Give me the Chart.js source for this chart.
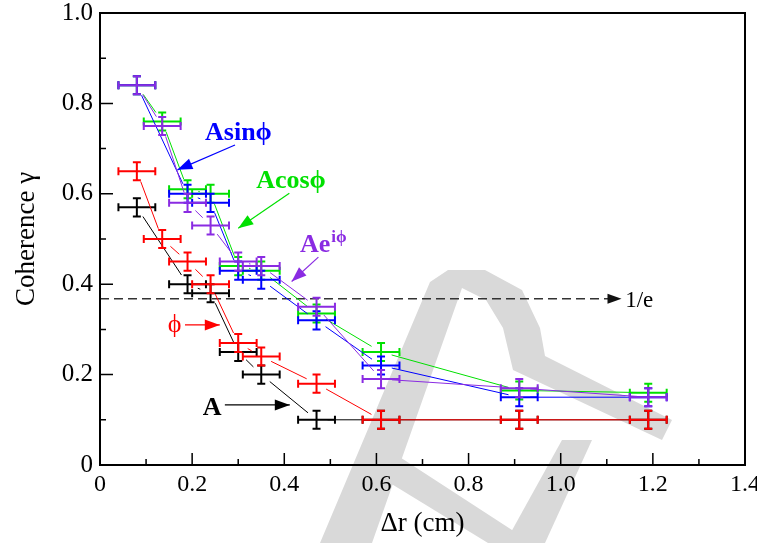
<!DOCTYPE html>
<html>
<head>
<meta charset="utf-8">
<script src="https://cdn.jsdelivr.net/npm/chart.js@4.4.1/dist/chart.umd.min.js"></script>
<style>
    html, body { margin: 0; padding: 0; background: #fff; }
    #wrap { width: 757px; height: 543px; }
</style>
</head>
<body>
<div id="wrap"><canvas id="myChart" width="757" height="543"></canvas></div>
<script>
// separation between the two probes (cm)
const rA = [0.08, 0.19, 0.24, 0.30, 0.35, 0.47, 0.61, 0.91, 1.19];
const gammaA = [0.57, 0.40, 0.38, 0.25, 0.20, 0.10, 0.10, 0.10, 0.10];

const rPhi = [0.08, 0.135, 0.19, 0.24, 0.30, 0.35, 0.47, 0.61, 0.91, 1.19];
const gammaPhi = [0.65, 0.50, 0.45, 0.40, 0.27, 0.24, 0.18, 0.10, 0.10, 0.10];

const rCos = [0.08, 0.135, 0.19, 0.24, 0.30, 0.35, 0.47, 0.61, 0.91, 1.19];
const gammaCos = [0.84, 0.76, 0.61, 0.60, 0.44, 0.43, 0.335, 0.25, 0.165, 0.16];

const rSin = [0.08, 0.19, 0.24, 0.30, 0.35, 0.47, 0.61, 0.91, 1.19];
const gammaSin = [0.84, 0.60, 0.58, 0.43, 0.41, 0.32, 0.22, 0.15, 0.15];

const rExp = [0.08, 0.135, 0.19, 0.24, 0.30, 0.35, 0.47, 0.61, 0.91, 1.19];
const gammaExp = [0.84, 0.75, 0.58, 0.53, 0.45, 0.44, 0.35, 0.19, 0.17, 0.15];

const rErr = 0.04;
const gammaErr = 0.02;
const invE = 0.368;

const xTickValues = [0, 0.2, 0.4, 0.6, 0.8, 1.0, 1.2, 1.4];
const xTickLabels = ["0", "0.2", "0.4", "0.6", "0.8", "1.0", "1.2", "1.4"];
const yTickValues = [0, 0.2, 0.4, 0.6, 0.8, 1.0];
const yTickLabels = ["0", "0.2", "0.4", "0.6", "0.8", "1.0"];
const xMinorTicks = [0.1, 0.3, 0.5, 0.7, 0.9, 1.1, 1.3];
const yMinorTicks = [0.1, 0.3, 0.5, 0.7, 0.9];

const serif = '"Liberation Serif", "Times New Roman", serif';

function pts(xs, ys) {
    return xs.map((v, i) => ({ x: v, y: ys[i] }));
}

// text labels with arrows, placed in data units
const notes = [
    { text: "Asin\u03d5", color: "#0000ff", x: 0.228, y: 0.719, bold: true, size: 26,
      arrow: [0.293, 0.708, 0.168, 0.653] },
    { text: "Acos\u03d5", color: "#00e000", x: 0.339, y: 0.613, bold: true, size: 26,
      arrow: [0.411, 0.601, 0.300, 0.524] },
    { text: "Ae", sup: "i\u03d5", color: "#8a2be2", x: 0.434, y: 0.472, bold: true, size: 26,
      arrow: [0.474, 0.460, 0.416, 0.406] },
    { text: "\u03d5", color: "#ff0000", x: 0.147, y: 0.295, bold: false, size: 26,
      arrow: [0.1845, 0.31, 0.26, 0.31] },
    { text: "A", color: "#000000", x: 0.223, y: 0.111, bold: true, size: 26,
      arrow: [0.271, 0.133, 0.412, 0.133] },
    { text: "1/e", color: "#000000", x: 1.14, y: 0.350, bold: false, size: 23 },
];

// faint "draft" watermark behind the plot (canvas pixels)
const watermark = [
    [[320, 543], [430, 282], [448, 270], [485, 270], [522, 290], [540, 328], [545, 356],
     [672, 420], [662, 440], [513, 370], [503, 328], [486, 300], [462, 288], [372, 543]],
    [[372, 472], [392, 452], [532, 543], [488, 543]],
    [[505, 543], [545, 543], [592, 440], [562, 440]],
];

function arrowHead(ctx, x0, y0, x1, y1, len, half) {
    const a = Math.atan2(y1 - y0, x1 - x0);
    ctx.beginPath();
    ctx.moveTo(x1, y1);
    ctx.lineTo(x1 - len * Math.cos(a) + half * Math.sin(a), y1 - len * Math.sin(a) - half * Math.cos(a));
    ctx.lineTo(x1 - len * Math.cos(a) - half * Math.sin(a), y1 - len * Math.sin(a) + half * Math.cos(a));
    ctx.closePath();
    ctx.fill();
}

const errorBars = {
    id: "errorBars",
    afterDatasetsDraw(chart) {
        const { ctx } = chart;
        const xs = chart.scales.x, ys = chart.scales.y;
        const gap = 11, cap = 4;
        chart.data.datasets.forEach((ds) => {
            const p = ds.data.map((d) => ({
                x: xs.getPixelForValue(d.x),
                y: ys.getPixelForValue(d.y),
                x0: xs.getPixelForValue(d.x - rErr),
                x1: xs.getPixelForValue(d.x + rErr),
                y0: ys.getPixelForValue(d.y - gammaErr),
                y1: ys.getPixelForValue(d.y + gammaErr),
            }));
            ctx.save();
            ctx.strokeStyle = ds.borderColor;
            // connecting segments, pulled back from the markers
            ctx.lineWidth = 1;
            for (let i = 1; i < p.length; i++) {
                const dx = p[i].x - p[i - 1].x, dy = p[i].y - p[i - 1].y;
                const len = Math.hypot(dx, dy);
                if (len <= 2 * gap) continue;
                const ux = dx / len, uy = dy / len;
                ctx.beginPath();
                ctx.moveTo(p[i - 1].x + ux * gap, p[i - 1].y + uy * gap);
                ctx.lineTo(p[i].x - ux * gap, p[i].y - uy * gap);
                ctx.stroke();
            }
            ctx.lineWidth = 2;
            p.forEach((q) => {
                ctx.beginPath();
                ctx.moveTo(q.x0, q.y); ctx.lineTo(q.x1, q.y);
                ctx.moveTo(q.x, q.y0); ctx.lineTo(q.x, q.y1);
                ctx.moveTo(q.x0, q.y - cap); ctx.lineTo(q.x0, q.y + cap);
                ctx.moveTo(q.x1, q.y - cap); ctx.lineTo(q.x1, q.y + cap);
                ctx.moveTo(q.x - cap, q.y0); ctx.lineTo(q.x + cap, q.y0);
                ctx.moveTo(q.x - cap, q.y1); ctx.lineTo(q.x + cap, q.y1);
                ctx.stroke();
            });
            ctx.restore();
        });
    },
};

const frameAndNotes = {
    id: "frameAndNotes",
    beforeDraw(chart) {
        const { ctx } = chart;
        ctx.save();
        ctx.fillStyle = "#d9d9d9";
        watermark.forEach((poly) => {
            ctx.beginPath();
            poly.forEach(([px, py], i) => (i ? ctx.lineTo(px, py) : ctx.moveTo(px, py)));
            ctx.closePath();
            ctx.fill();
        });
        ctx.restore();
    },
    beforeDatasetsDraw(chart) {
        const { ctx, chartArea: a } = chart;
        const xs = chart.scales.x, ys = chart.scales.y;
        // 1/e reference line
        ctx.save();
        const yy = ys.getPixelForValue(invE);
        const xe = xs.getPixelForValue(1.132);
        ctx.strokeStyle = "#333";
        ctx.fillStyle = "#111";
        ctx.lineWidth = 1.5;
        ctx.setLineDash([9, 5]);
        ctx.beginPath();
        ctx.moveTo(a.left, yy);
        ctx.lineTo(xe - 8, yy);
        ctx.stroke();
        ctx.setLineDash([]);
        arrowHead(ctx, a.left, yy, xe, yy, 14, 5);
        ctx.restore();
    },
    afterDraw(chart) {
        const { ctx, chartArea: a } = chart;
        const xs = chart.scales.x, ys = chart.scales.y;
        ctx.save();
        ctx.strokeStyle = "#000";
        ctx.lineWidth = 2;
        ctx.strokeRect(a.left, a.top, a.right - a.left, a.bottom - a.top);
        ctx.lineWidth = 1.5;
        ctx.beginPath();
        xTickValues.forEach((v) => {
            const px = xs.getPixelForValue(v);
            ctx.moveTo(px, a.bottom); ctx.lineTo(px, a.bottom - 12);
        });
        xMinorTicks.forEach((v) => {
            const px = xs.getPixelForValue(v);
            ctx.moveTo(px, a.bottom); ctx.lineTo(px, a.bottom - 6);
        });
        yTickValues.forEach((v) => {
            const py = ys.getPixelForValue(v);
            ctx.moveTo(a.left, py); ctx.lineTo(a.left + 13, py);
        });
        yMinorTicks.forEach((v) => {
            const py = ys.getPixelForValue(v);
            ctx.moveTo(a.left, py); ctx.lineTo(a.left + 6, py);
        });
        ctx.stroke();

        notes.forEach((n) => {
            const px = xs.getPixelForValue(n.x);
            const py = ys.getPixelForValue(n.y);
            ctx.fillStyle = n.color;
            ctx.strokeStyle = n.color;
            ctx.textBaseline = "alphabetic";
            ctx.textAlign = "left";
            ctx.font = (n.bold ? "bold " : "") + n.size + "px " + serif;
            ctx.fillText(n.text, px, py);
            if (n.sup) {
                const w = ctx.measureText(n.text).width;
                ctx.font = (n.bold ? "bold " : "") + Math.round(n.size * 0.65) + "px " + serif;
                ctx.fillText(n.sup, px + w + 1, py - 10);
            }
            if (n.arrow) {
                const [x0, y0, x1, y1] = n.arrow;
                const p0x = xs.getPixelForValue(x0), p0y = ys.getPixelForValue(y0);
                const p1x = xs.getPixelForValue(x1), p1y = ys.getPixelForValue(y1);
                ctx.lineWidth = 1.2;
                ctx.beginPath();
                ctx.moveTo(p0x, p0y);
                ctx.lineTo(p1x, p1y);
                ctx.stroke();
                arrowHead(ctx, p0x, p0y, p1x, p1y, 15, 5.5);
            }
        });
        ctx.restore();
    },
};

const data = {
    datasets: [
        { label: "A", data: pts(rA, gammaA), borderColor: "#000000" },
        { label: "phi", data: pts(rPhi, gammaPhi), borderColor: "#ff0000" },
        { label: "Acos", data: pts(rCos, gammaCos), borderColor: "#00e000" },
        { label: "Asin", data: pts(rSin, gammaSin), borderColor: "#0000ff" },
        { label: "Aexp", data: pts(rExp, gammaExp), borderColor: "#8a2be2" },
    ],
};

const config = {
    type: "scatter",
    data: data,
    options: {
        responsive: false,
        animation: false,
        showLine: false,
        elements: { point: { radius: 0, hoverRadius: 0 } },
        layout: { padding: { top: 13, right: 12, left: 0, bottom: 0 } },
        scales: {
            x: {
                type: "linear",
                min: 0,
                max: 1.4,
                afterFit: (s) => { s.height = 78; s.paddingLeft = 0; s.paddingRight = 0; },
                afterBuildTicks: (s) => { s.ticks = xTickValues.map((v) => ({ value: v })); },
                border: { display: false },
                grid: { display: false, drawTicks: false },
                ticks: {
                    padding: 5,
                    color: "#000",
                    font: { family: serif, size: 24 },
                    maxRotation: 0,
                    autoSkip: false,
                    callback: (v, i) => xTickLabels[i],
                },
                title: {
                    display: true,
                    text: "\u0394r (cm)",
                    color: "#000",
                    font: { family: serif, size: 27 },
                    padding: { top: 0, bottom: 3 },
                },
            },
            y: {
                type: "linear",
                min: 0,
                max: 1.0,
                afterFit: (s) => { s.width = 100; s.paddingTop = 0; s.paddingBottom = 0; },
                afterBuildTicks: (s) => { s.ticks = yTickValues.map((v) => ({ value: v })); },
                border: { display: false },
                grid: { display: false, drawTicks: false },
                ticks: {
                    padding: 7,
                    color: "#000",
                    font: { family: serif, size: 25 },
                    autoSkip: false,
                    callback: (v, i) => yTickLabels[i],
                },
                title: {
                    display: true,
                    text: "Coherence \u03b3",
                    color: "#000",
                    font: { family: serif, size: 27 },
                    padding: { top: 11, bottom: 0 },
                },
            },
        },
        plugins: {
            legend: { display: false },
            tooltip: { enabled: false },
        },
    },
    plugins: [frameAndNotes, errorBars],
};

const myChart = new Chart(document.getElementById("myChart").getContext("2d"), config);
</script>
</body>
</html>
